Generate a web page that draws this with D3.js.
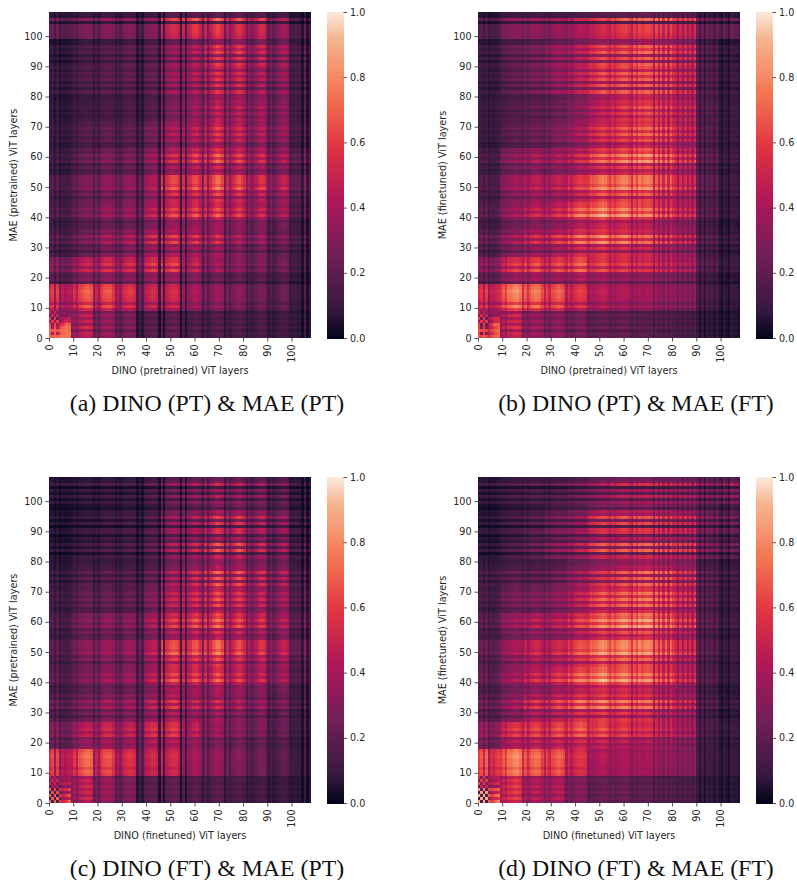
<!DOCTYPE html>
<html>
<head>
<meta charset="utf-8">
<script src="https://cdn.jsdelivr.net/npm/d3@7"></script>
<style>
  html, body { margin: 0; padding: 0; background: #fff; }
  svg { display: block; }
  .tick text { font-family: "DejaVu Sans"; font-size: 9.6px; fill: #262626; }
  .tick line { stroke: #262626; stroke-width: 0.8; }
  .aText { font-family: "DejaVu Sans"; font-size: 9.7px; fill: #262626; text-anchor: middle; }
  .caption { font-family: "Liberation Serif"; font-size: 23.8px; fill: #111; text-anchor: middle; }
</style>
</head>
<body>
<div id="chart"></div>
<script>
// stripe profiles, one number per layer
const topRows = [
  0.9,1.0,0.75,1.1,0.8,1.0,0.8,1.0,0.75,
  0.8,1.05,0.8,1.0,1.05,1.05,1.1,1.05,1.0,
  0.45,0.7,0.6,0.7,1.15,0.85,1.15,1.0,1.0,
  0.85,0.55,0.85,0.65,1.2,0.85,1.2,0.8,0.85,
  0.7,0.7,0.6,0.85,1.25,0.95,1.15,0.95,0.95,
  0.9,0.65,1.0,0.8,1.2,1.0,1.1,1.08,1.08,
  0.8,0.7,0.95,0.7,1.25,0.95,1.25,0.9,1.0,
  0.8,0.7,1.05,0.85,1.15,0.9,1.15,0.95,0.9,
  1.05,0.85,1.1,0.85,1.15,0.95,1.0,0.85,0.85,
  1.15,0.6,1.15,0.7,1.15,0.9,1.15,0.8,1.05,
  1.15,0.6,1.15,0.65,1.2,0.95,1.15,0.65,0.6,
  1.0,1.05,1.1,1.1,1.1,0.3,1.3,0.35,0.4
];
const bottomRows = [
  0.85,1.05,0.85,1.05,0.9,1.05,0.9,1.0,0.85,
  1.0,1.05,0.95,1.05,1.05,1.05,1.1,1.05,1.0,
  0.8,0.7,0.85,0.7,1.1,0.9,1.1,1.0,1.0,
  0.9,0.6,0.9,0.65,1.2,0.85,1.2,0.75,0.9,
  0.7,0.75,0.65,0.9,1.25,0.95,1.15,0.95,0.95,
  0.9,0.65,1.0,0.8,1.2,1.0,1.1,1.08,1.08,
  0.8,0.7,0.95,0.7,1.25,0.95,1.25,1.0,1.05,
  0.85,0.7,1.15,0.85,1.2,0.9,1.15,0.9,0.85,
  1.25,0.65,1.25,0.7,1.3,0.8,0.8,0.65,0.65,
  0.95,0.4,1.3,0.6,1.3,0.55,0.85,0.4,1.05,
  1.15,0.35,1.25,0.55,1.3,0.8,0.9,0.4,0.6,
  1.0,0.5,1.25,0.5,1.05,0.3,1.4,0.75,0.65
];
const leftColumns = [
  1.0,1.15,0.7,1.15,0.6,0.85,0.75,0.8,0.85,
  0.75,0.95,0.75,1.05,1.1,1.15,1.2,1.2,1.15,
  0.65,0.9,0.65,1.0,1.15,1.2,1.2,1.2,1.05,
  0.7,0.9,0.7,1.0,1.1,1.15,1.2,1.15,1.05,
  0.35,0.75,0.4,0.95,1.05,1.1,1.2,1.2,1.1,
  0.25,1.15,0.25,1.05,1.1,1.2,1.25,1.2,1.05,
  0.25,1.05,0.35,1.0,1.05,1.2,1.25,1.2,1.0,
  0.5,1.05,0.6,0.95,1.1,1.2,1.3,1.25,1.1,
  0.5,1.0,0.7,0.9,1.05,1.2,1.25,1.15,1.0,
  0.6,0.95,0.7,0.85,0.95,1.15,1.2,1.2,1.0,
  0.6,0.9,0.65,0.8,0.9,1.1,1.2,1.2,1.05,
  0.75,0.75,0.85,0.8,0.8,0.3,1.25,0.3,0.7
];
const rightColumns = [
  1.0,1.1,0.8,1.15,0.65,0.9,0.85,0.95,1.0,
  0.85,1.0,0.9,1.1,1.1,1.15,1.2,1.2,1.1,
  0.85,1.1,0.85,1.05,1.15,1.2,1.2,1.15,1.0,
  0.8,1.05,0.85,1.05,1.1,1.15,1.2,1.15,1.05,
  0.85,1.05,0.9,1.05,1.1,1.15,1.2,1.15,1.1,
  0.9,1.05,1.0,1.05,1.1,1.15,1.2,1.15,1.05,
  0.9,1.05,0.95,1.05,1.1,1.15,1.15,1.15,1.05,
  0.85,1.1,0.95,1.15,1.05,1.1,1.15,1.15,1.1,
  0.8,1.15,0.85,1.15,0.85,1.15,0.85,1.15,0.95,
  1.05,0.8,1.1,0.8,1.1,0.8,1.1,0.85,1.15,
  0.75,0.4,0.75,0.35,0.85,0.6,0.75,0.45,0.8,
  0.55,0.3,0.75,0.55,0.3,0.8,0.65,0.65,0.5
];

// mean level of each 9x9 block, bottom row first
const blocksA = [
  [.65,.42,.32,.26,.17,.18,.15,.15,.14,.14,.12,.11],
  [.5,.55,.52,.47,.42,.42,.33,.28,.26,.22,.2,.14],
  [.28,.38,.42,.42,.45,.46,.38,.3,.27,.25,.22,.15],
  [.17,.23,.31,.33,.4,.43,.41,.38,.32,.3,.24,.18],
  [.15,.22,.28,.28,.36,.44,.45,.45,.42,.38,.32,.2],
  [.15,.23,.26,.27,.34,.48,.48,.52,.48,.44,.38,.25],
  [.11,.18,.22,.22,.28,.38,.42,.46,.42,.38,.32,.22],
  [.1,.15,.17,.17,.22,.33,.36,.42,.4,.35,.3,.18],
  [.08,.1,.12,.13,.15,.24,.3,.36,.36,.33,.28,.16],
  [.1,.14,.16,.17,.18,.3,.33,.4,.4,.34,.3,.16],
  [.08,.12,.14,.16,.17,.28,.33,.42,.42,.38,.32,.17],
  [.2,.22,.24,.24,.25,.4,.44,.44,.42,.4,.3,.17]
];
const blocksB = [
  [.62,.45,.33,.3,.25,.2,.2,.18,.17,.15,.12,.1],
  [.5,.64,.6,.56,.48,.38,.36,.34,.32,.3,.2,.13],
  [.3,.46,.5,.5,.55,.5,.48,.45,.43,.38,.25,.15],
  [.2,.32,.4,.45,.56,.6,.58,.54,.48,.42,.25,.15],
  [.17,.3,.38,.42,.55,.63,.62,.58,.52,.44,.25,.15],
  [.15,.3,.36,.38,.47,.6,.62,.62,.55,.46,.27,.16],
  [.13,.26,.31,.32,.4,.52,.57,.6,.56,.46,.27,.16],
  [.1,.17,.2,.25,.34,.47,.52,.56,.54,.45,.25,.15],
  [.1,.14,.17,.2,.28,.4,.48,.52,.5,.44,.24,.15],
  [.1,.17,.22,.3,.38,.5,.53,.54,.52,.45,.24,.15],
  [.1,.18,.22,.3,.36,.48,.5,.54,.52,.45,.24,.14],
  [.15,.25,.27,.29,.34,.42,.48,.5,.5,.44,.3,.3]
];
const blocksC = [
  [.58,.42,.32,.26,.17,.18,.16,.15,.14,.12,.1,.09],
  [.52,.58,.52,.46,.42,.42,.32,.28,.25,.22,.17,.13],
  [.28,.38,.42,.4,.45,.46,.38,.3,.27,.25,.2,.14],
  [.2,.25,.31,.31,.36,.42,.37,.37,.33,.3,.24,.17],
  [.18,.24,.29,.29,.35,.46,.45,.46,.42,.38,.32,.2],
  [.17,.26,.29,.29,.36,.5,.5,.53,.48,.44,.38,.25],
  [.14,.23,.25,.25,.31,.41,.45,.48,.44,.4,.33,.22],
  [.12,.18,.18,.18,.24,.36,.4,.45,.42,.37,.32,.2],
  [.1,.14,.14,.14,.18,.3,.36,.44,.43,.37,.32,.17],
  [.07,.1,.12,.13,.17,.3,.34,.42,.42,.35,.3,.16],
  [.06,.08,.1,.11,.13,.27,.3,.38,.38,.33,.28,.14],
  [.08,.09,.1,.1,.14,.22,.26,.3,.28,.26,.2,.12]
];
const blocksD = [
  [.62,.5,.38,.38,.27,.2,.2,.18,.17,.15,.12,.1],
  [.58,.64,.58,.56,.47,.36,.35,.34,.32,.3,.17,.13],
  [.33,.48,.5,.53,.56,.53,.5,.47,.44,.38,.22,.15],
  [.22,.32,.43,.47,.56,.59,.58,.56,.5,.43,.23,.14],
  [.2,.31,.4,.45,.56,.64,.63,.6,.54,.44,.24,.14],
  [.2,.32,.4,.42,.52,.63,.65,.64,.57,.47,.25,.16],
  [.17,.29,.34,.35,.45,.57,.61,.63,.57,.47,.26,.16],
  [.13,.22,.24,.28,.38,.52,.55,.58,.55,.47,.25,.17],
  [.12,.16,.16,.2,.3,.4,.47,.51,.5,.43,.26,.18],
  [.08,.13,.18,.26,.33,.46,.47,.49,.47,.44,.38,.3],
  [.07,.11,.14,.21,.27,.42,.45,.45,.43,.4,.38,.32],
  [.09,.12,.14,.15,.2,.28,.34,.35,.35,.33,.38,.42]
];

// the first 9 layers of each panel, read cell by cell
const cornerA = [
  [.72,.68,.72,.7,.72,.74,.74,.76,.74],
  [.7,.42,.68,.45,.62,.72,.72,.76,.76],
  [.72,.68,.7,.66,.7,.72,.74,.76,.72],
  [.68,.42,.66,.42,.6,.7,.72,.75,.72],
  [.64,.3,.62,.38,.5,.58,.65,.7,.68],
  [.42,.58,.4,.58,.3,.42,.5,.55,.5],
  [.6,.22,.6,.22,.38,.4,.42,.45,.45],
  [.35,.52,.3,.5,.2,.28,.28,.3,.32],
  [.5,.28,.5,.32,.28,.28,.32,.3,.3]
];
const cornerB = [
  [.68,.62,.7,.62,.55,.65,.68,.7,.72],
  [.62,.25,.62,.3,.42,.5,.62,.66,.7],
  [.7,.65,.66,.62,.5,.62,.66,.7,.72],
  [.6,.25,.58,.25,.4,.48,.6,.64,.68],
  [.62,.22,.6,.22,.42,.55,.68,.7,.68],
  [.4,.6,.4,.6,.25,.38,.48,.52,.52],
  [.62,.22,.6,.22,.42,.45,.5,.52,.55],
  [.35,.55,.32,.5,.22,.3,.32,.35,.4],
  [.52,.3,.5,.35,.3,.32,.36,.35,.35]
];
const cornerC = [
  [.7,.15,.7,.15,.6,.5,.55,.6,.7],
  [.15,.7,.15,.7,.2,.35,.4,.4,.45],
  [.7,.15,.7,.15,.6,.5,.55,.6,.65],
  [.15,.65,.15,.65,.2,.3,.35,.35,.4],
  [.7,.2,.65,.2,.55,.5,.55,.55,.6],
  [.2,.4,.25,.4,.2,.25,.3,.3,.3],
  [.55,.3,.5,.3,.4,.4,.45,.45,.5],
  [.3,.5,.3,.5,.25,.3,.35,.35,.4],
  [.45,.3,.45,.3,.35,.35,.4,.4,.4]
];
const cornerD = [
  [.9,.15,.9,.15,.7,.6,.65,.7,.8],
  [.15,.9,.15,.9,.25,.45,.5,.5,.55],
  [.9,.15,.9,.15,.7,.6,.65,.7,.75],
  [.15,.85,.15,.85,.25,.4,.45,.45,.5],
  [.85,.2,.8,.2,.65,.6,.65,.65,.7],
  [.2,.5,.25,.5,.25,.3,.35,.35,.35],
  [.65,.3,.6,.3,.45,.45,.5,.5,.55],
  [.3,.6,.3,.6,.3,.35,.4,.4,.45],
  [.55,.3,.55,.3,.4,.4,.45,.45,.45]
];

const captions = ["(a) DINO (PT) & MAE (PT)", "(b) DINO (PT) & MAE (FT)", "(c) DINO (FT) & MAE (PT)", "(d) DINO (FT) & MAE (FT)"];
const xTitles = ["DINO (pretrained) ViT layers", "DINO (pretrained) ViT layers", "DINO (finetuned) ViT layers", "DINO (finetuned) ViT layers"];
const yTitles = ["MAE (pretrained) ViT layers", "MAE (finetuned) ViT layers", "MAE (pretrained) ViT layers", "MAE (finetuned) ViT layers"];
const layerTicks = [0, 10, 20, 30, 40, 50, 60, 70, 80, 90, 100];
const colorTicks = [0, 0.2, 0.4, 0.6, 0.8, 1];
const rocketStops = ["#03051a", "#35193e", "#701f57", "#ad1759", "#e13342", "#f37651", "#f6b48f", "#faebdd"];
const rocketDomain = [0, 0.083, 0.25, 0.417, 0.583, 0.75, 0.917, 1];

const panels = [
  { left: 49, top: 12, blocks: blocksA, corner: cornerA, rows: topRows, columns: leftColumns },
  { left: 478, top: 12, blocks: blocksB, corner: cornerB, rows: topRows, columns: rightColumns },
  { left: 49, top: 477, blocks: blocksC, corner: cornerC, rows: bottomRows, columns: leftColumns },
  { left: 478, top: 477, blocks: blocksD, corner: cornerD, rows: bottomRows, columns: rightColumns }
];

const mapWidth = 262;
const mapHeight = 326;
const layers = d3.range(108);

const color = d3.scaleLinear().domain(rocketDomain).range(rocketStops).clamp(true);

const x = d3.scaleLinear().domain([0, 108]).range([0, mapWidth]);
const y = d3.scaleLinear().domain([0, 108]).range([mapHeight, 0]);
const barScale = d3.scaleLinear().domain([0, 1]).range([mapHeight, 0]);

const svg = d3.select("#chart").append("svg")
  .attr("width", 797)
  .attr("height", 880);

panels.forEach(function (panel, p) {
  const g = svg.append("g").attr("transform", `translate(${panel.left}, ${panel.top})`);

  const cells = [];
  layers.forEach(function (i) {
    layers.forEach(function (j) {
      let v = panel.blocks[Math.floor(i / 9)][Math.floor(j / 9)] * panel.rows[i] * panel.columns[j];
      if (i < 9 && j < 9) v = panel.corner[i][j];
      cells.push({ i: i, j: j, v: v });
    });
  });

  // the reference is a slightly soft raster
  g.append("g")
    .style("filter", "blur(0.35px)")
    .selectAll("rect")
    .data(cells)
    .enter()
    .append("rect")
    .attr("x", d => x(d.j))
    .attr("y", d => y(d.i + 1))
    .attr("width", x(1) - x(0))
    .attr("height", y(0) - y(1))
    .attr("fill", d => color(d.v))
    .attr("shape-rendering", "crispEdges");

  const bottomAxis = d3.axisBottom(x).tickValues(layerTicks).tickSize(3.5).tickPadding(3).tickFormat(d3.format("d"));
  const leftAxis = d3.axisLeft(y).tickValues(layerTicks).tickSize(3.5).tickPadding(3).tickFormat(d3.format("d"));

  const xGroup = g.append("g").attr("transform", `translate(0, ${mapHeight})`).call(bottomAxis);
  xGroup.select(".domain").remove();
  xGroup.selectAll(".tick text")
    .attr("transform", "rotate(-90)")
    .attr("x", -6.5)
    .attr("y", 0)
    .attr("dy", "0.32em")
    .style("text-anchor", "end");

  const yGroup = g.append("g").call(leftAxis);
  yGroup.select(".domain").remove();

  g.append("text")
    .attr("class", "aText")
    .attr("x", mapWidth / 2)
    .attr("y", mapHeight + 36)
    .text(xTitles[p]);

  g.append("text")
    .attr("class", "aText")
    .attr("transform", "rotate(-90)")
    .attr("x", -mapHeight / 2)
    .attr("y", -32)
    .text(yTitles[p]);

  // colorbar
  const bar = g.append("g").attr("transform", `translate(${mapWidth + 16}, 0)`);
  bar.selectAll("rect")
    .data(d3.range(0, 1, 1 / 256))
    .enter()
    .append("rect")
    .attr("x", 0)
    .attr("y", d => barScale(d + 1 / 256))
    .attr("width", 16.5)
    .attr("height", barScale(0) - barScale(1 / 256) + 0.5)
    .attr("fill", d => color(d))
    .attr("shape-rendering", "crispEdges");

  const barAxis = d3.axisRight(barScale).tickValues(colorTicks).tickSize(3.5).tickPadding(3).tickFormat(d3.format(".1f"));
  const barGroup = bar.append("g").attr("transform", "translate(16.5, 0)").call(barAxis);
  barGroup.select(".domain").remove();

  g.append("text")
    .attr("class", "caption")
    .attr("x", mapWidth / 2 + 27)
    .attr("y", mapHeight + 73)
    .text(captions[p]);
});
</script>
</body>
</html>
